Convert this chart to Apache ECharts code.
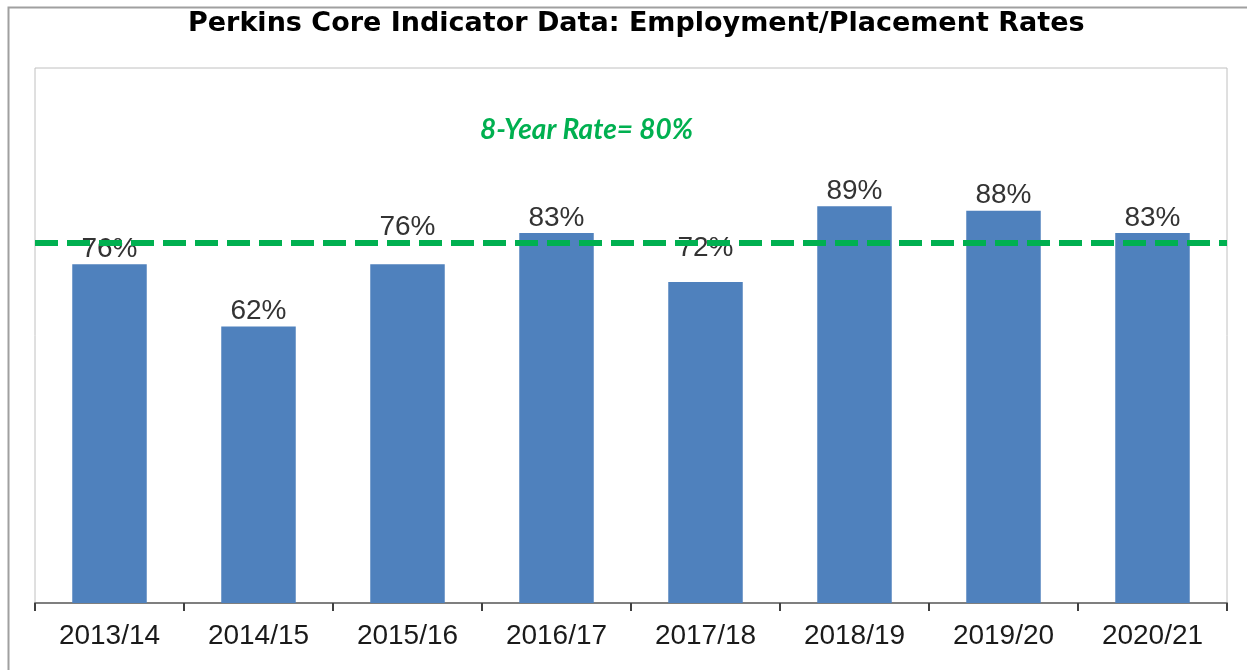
<!DOCTYPE html>
<html>
<head>
<meta charset="utf-8">
<title>Perkins Core Indicator Data</title>
<script src="https://cdn.jsdelivr.net/npm/echarts@6/dist/echarts.min.js"></script>
<style>
  html, body { margin: 0; padding: 0; background: #fff; }
  #chart { width: 1247px; height: 670px; }
</style>
</head>
<body>
<div id="chart"></div>
<script>
// Chart data
const years = ['2013/14', '2014/15', '2015/16', '2016/17', '2017/18', '2018/19', '2019/20', '2020/21'];
const placementRates = [76, 62, 76, 83, 72, 89, 88, 83];
const eightYearRate = 80.8;   // where the dashed line sits
const eightYearLabel = '8-Year Rate= 80%';

// a couple of value labels were nudged up by hand in the original
const labelLift = { 2: 22, 4: 19 };

const chart = echarts.init(document.getElementById('chart'));

const barData = placementRates.map((v, i) => {
  const item = { value: v };
  if (labelLift[i]) {
    item.label = { offset: [0, -labelLift[i]] };
  }
  return item;
});

const option = {
  animation: false,
  title: {
    text: 'Perkins Core Indicator Data: Employment/Placement Rates',
    left: 183,
    top: 5,
    textStyle: {
      fontFamily: 'DejaVu Sans',
      fontWeight: 'bold',
      fontSize: 27,
      color: '#000'
    }
  },
  graphic: [
    {
      // outer chart frame
      type: 'rect',
      left: 6,
      top: 5,
      shape: { width: 1300, height: 700 },
      style: { fill: 'none', stroke: '#a0a0a0', lineWidth: 2 },
      z: -1
    },
    {
      type: 'text',
      left: 480,
      top: 116,
      style: {
        text: eightYearLabel,
        fill: '#00B050',
        font: 'italic bold 28px Lato'
      }
    }
  ],
  grid: {
    left: 35,
    right: 20,
    top: 68,
    bottom: 67,
    show: true,
    borderColor: '#c0c0c0',
    borderWidth: 1
  },
  xAxis: {
    type: 'category',
    data: years,
    axisLine: { lineStyle: { color: '#7f7f7f', width: 2 } },
    axisTick: { show: true, length: 8, lineStyle: { color: '#404040', width: 2 } },
    axisLabel: {
      fontFamily: 'Liberation Sans',
      fontSize: 28,
      color: '#1a1a1a',
      margin: 19
    }
  },
  yAxis: {
    type: 'value',
    min: 0,
    max: 120,
    show: false
  },
  series: [
    {
      type: 'bar',
      data: barData,
      barWidth: '50%',
      itemStyle: { color: '#4F81BD' },
      z: 2,
      label: {
        show: true,
        position: 'top',
        distance: 1,
        formatter: '{c}%',
        fontFamily: 'Liberation Sans',
        fontSize: 28,
        color: '#333'
      }
    },
    {
      // dashed 8-year line, drawn above the value labels
      type: 'line',
      data: [],
      z: 10,
      markLine: {
        silent: true,
        symbol: 'none',
        label: { show: false },
        lineStyle: { color: '#00B050', width: 6, type: [23, 9] },
        data: [{ yAxis: eightYearRate }]
      }
    }
  ]
};

chart.setOption(option);
</script>
</body>
</html>
